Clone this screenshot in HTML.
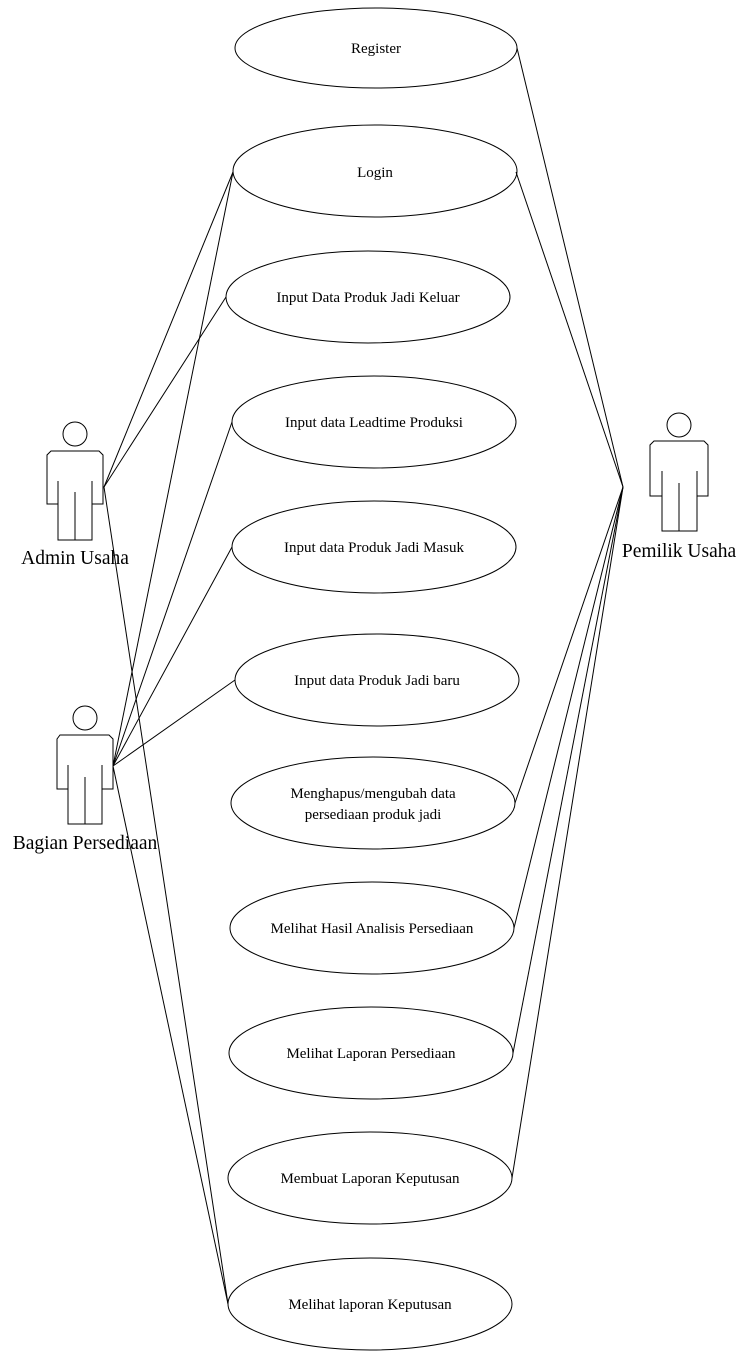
<!DOCTYPE html>
<html><head><meta charset="utf-8"><style>html,body{margin:0;padding:0;background:#fff}</style></head>
<body>
<svg width="748" height="1352" viewBox="0 0 748 1352" xmlns="http://www.w3.org/2000/svg" font-family="Liberation Serif, serif">
<g fill="none" stroke="#000" stroke-width="1">
<ellipse cx="376" cy="48" rx="141" ry="40"/>
<ellipse cx="375" cy="171" rx="142" ry="46"/>
<ellipse cx="368" cy="297" rx="142" ry="46"/>
<ellipse cx="374" cy="422" rx="142" ry="46"/>
<ellipse cx="374" cy="547" rx="142" ry="46"/>
<ellipse cx="377" cy="680" rx="142" ry="46"/>
<ellipse cx="373" cy="803" rx="142" ry="46"/>
<ellipse cx="372" cy="928" rx="142" ry="46"/>
<ellipse cx="371" cy="1053" rx="142" ry="46"/>
<ellipse cx="370" cy="1178" rx="142" ry="46"/>
<ellipse cx="370" cy="1304" rx="142" ry="46"/>
<line x1="104" y1="487" x2="233" y2="172"/>
<line x1="104" y1="487" x2="226" y2="297"/>
<line x1="104" y1="487" x2="228" y2="1304"/>
<line x1="113" y1="766" x2="233" y2="172"/>
<line x1="113" y1="766" x2="232" y2="422"/>
<line x1="113" y1="766" x2="232" y2="547"/>
<line x1="113" y1="766" x2="235" y2="680"/>
<line x1="113" y1="766" x2="228" y2="1304"/>
<line x1="623" y1="487" x2="517" y2="48"/>
<line x1="623" y1="487" x2="516" y2="172"/>
<line x1="623" y1="487" x2="515" y2="803"/>
<line x1="623" y1="487" x2="514" y2="928"/>
<line x1="623" y1="487" x2="513" y2="1053"/>
<line x1="623" y1="487" x2="512" y2="1178"/>
<g>
<circle cx="75" cy="434" r="12"/>
<path d="M51 451 H99 L103 455 V504 H92 V540 H58 V504 H47 V455 Z"/>
<line x1="58" y1="481" x2="58" y2="504"/><line x1="92" y1="481" x2="92" y2="504"/><line x1="75" y1="492" x2="75" y2="540"/>
</g>
<g>
<circle cx="85" cy="718" r="12"/>
<path d="M60 735 H109 L113 739 V789 H102 V824 H68 V789 H57 V739 Z"/>
<line x1="68" y1="765" x2="68" y2="789"/><line x1="102" y1="765" x2="102" y2="789"/><line x1="85" y1="777" x2="85" y2="824"/>
</g>
<g>
<circle cx="679" cy="425" r="12"/>
<path d="M654 441 H704 L708 445 V496 H697 V531 H662 V496 H650 V445 Z"/>
<line x1="662" y1="471" x2="662" y2="496"/><line x1="697" y1="471" x2="697" y2="496"/><line x1="679" y1="483" x2="679" y2="531"/>
</g>
</g>
<g font-size="15" text-anchor="middle" fill="#000">
<text x="376" y="53">Register</text>
<text x="375" y="177">Login</text>
<text x="368" y="302">Input Data Produk Jadi Keluar</text>
<text x="374" y="427">Input data Leadtime Produksi</text>
<text x="374" y="552">Input data Produk Jadi Masuk</text>
<text x="377" y="685">Input data Produk Jadi baru</text>
<text x="373" y="798">Menghapus/mengubah data</text>
<text x="373" y="819">persediaan produk jadi</text>
<text x="372" y="933">Melihat Hasil Analisis Persediaan</text>
<text x="371" y="1058">Melihat Laporan Persediaan</text>
<text x="370" y="1183">Membuat Laporan Keputusan</text>
<text x="370" y="1309">Melihat laporan Keputusan</text>
</g>
<g font-size="19.5" text-anchor="middle" fill="#000">
<text x="75" y="564">Admin Usaha</text>
<text x="85" y="849">Bagian Persediaan</text>
<text x="679" y="557">Pemilik Usaha</text>
</g>
</svg>
</body></html>
